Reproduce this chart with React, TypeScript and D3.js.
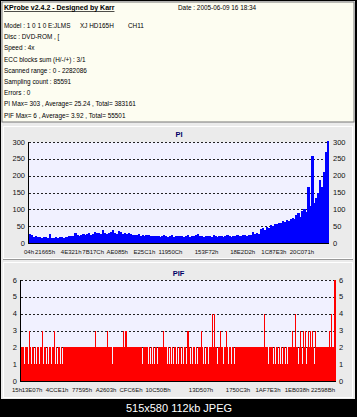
import React from 'react';
import * as d3 from 'd3';

const W = 357;
const H = 417;

const titleText = 'KProbe v2.4.2 - Designed by Karr';
const dateText = 'Date : 2005-06-09 16 18:34';
const infoLines = [
  'Model : 1 0 1 0 E:JLMS',
  'Disc : DVD-ROM , [',
  'Speed : 4x',
  'ECC blocks sum (H/-/+) : 3/1',
  'Scanned range : 0 - 2282086',
  'Sampling count : 85591',
  'Errors : 0',
  'PI Max= 303 , Average= 25.24 , Total= 383161',
  'PIF Max= 6 , Average= 3.92 , Total= 55501',
];
const modelDrive = 'XJ HD165H';
const modelFw = 'CH11';
const footerText = '515x580 112kb JPEG';

const scanEnd = 2282086;

// PI series (sampled left to right across the scanned range)
const piValues = [
  27, 24, 18, 20, 17, 19, 16, 18,
  17, 16, 26, 16, 15, 17, 16, 18, 17, 16, 18, 17,
  20, 22, 21, 30, 23, 22, 24, 26, 25, 27, 31, 24, 28, 33, 29,
  30, 28, 40, 31, 27, 29, 33, 38, 30, 28, 35, 32, 27, 30, 26, 29, 28,
  25, 23, 24, 27, 22, 24, 21, 23, 25, 22, 20, 21,
  22, 20, 19, 21, 24, 20, 18, 21, 23, 19, 20, 22,
  20, 21, 18, 22, 24, 19, 21, 20, 23, 26, 21, 20, 19, 22, 21,
  20, 19, 24, 21, 18, 20, 22, 19, 21, 23, 20, 19, 22, 20, 24, 21, 22, 23, 25, 22, 24, 23,
  34, 28, 30, 26,
  42, 45, 40, 48, 46, 52, 50, 55,
  57, 60, 58, 65, 62, 68, 66, 72,
  75, 70, 82, 88, 78, 95, 100, 92,
  165, 110, 258, 120, 135,
  150, 186, 165, 210, 270, 303,
];
const piYTicks = [0, 50, 100, 150, 200, 250, 300];
const piXTickLabels = ['04h', '21665h', '4E321h', '7B17Ch', 'AE085h', 'E25C1h', '11950Ch', '153F72h', '18E2D2h', '1C87E3h', '20C071h'];
const piXTickLBA = [0, 122000, 320600, 488500, 671600, 877700, 1076200, 1351000, 1625700, 1862300, 2076000];

// PIF series
const pifValues = [
  2, 2, 2, 1, 2, 2, 2, 1, 3, 2,
  1, 2, 2, 1, 2, 1, 2, 2, 1, 2,
  2, 3, 1, 2, 2, 1, 2, 1, 2, 2,
  1, 2, 2, 3, 1, 2, 1, 2, 2, 1,
  2, 1, 2, 2, 2, 2, 2, 2, 2, 2,
  2, 2, 2, 2, 2, 2, 2, 2, 2, 2,
  2, 2, 2, 2, 2, 2, 2, 2, 2, 2,
  2, 2, 2, 2, 3, 2, 2, 2, 2, 2,
  2, 2, 2, 2, 2, 2, 3, 2, 2, 2,
  2, 1, 2, 2, 2, 2, 2, 2, 2, 2,
  2, 2, 3, 2, 3, 3, 2, 2, 2, 2,
  2, 2, 2, 2, 2, 2, 2, 2, 2, 2,
  2, 1, 2, 2, 2, 2, 2, 1, 2, 1,
  2, 1, 2, 1, 2, 2, 1, 2, 2, 2,
  2, 2, 3, 2, 2, 2, 1, 2, 1, 2,
  1, 2, 1, 2, 2, 1, 2, 1, 2, 2,
  1, 2, 1, 2, 2, 1, 3, 3, 2, 1,
  2, 1, 2, 2, 1, 2, 1, 2, 2, 2,
  3, 2, 1, 2, 1, 2, 2, 1, 2, 2,
  2, 4, 2, 4, 2, 2, 1, 2, 2, 3,
  2, 2, 1, 2, 2, 3, 2, 1, 2, 2,
  1, 2, 2, 1, 2, 2, 2, 2, 2, 2,
  2, 2, 2, 2, 2, 2, 2, 2, 2, 2,
  2, 2, 2, 2, 2, 2, 2, 2, 2, 2,
  2, 2, 2, 4, 2, 2, 2, 1, 2, 2,
  2, 2, 1, 2, 1, 2, 2, 1, 2, 1,
  2, 1, 2, 2, 1, 2, 1, 2, 2, 2,
  2, 3, 2, 2, 4, 2, 2, 1, 2, 3,
  2, 1, 3, 2, 3, 1, 2, 3, 2, 3,
  2, 3, 2, 1, 3, 2, 2, 2, 2, 2,
  2, 2, 2, 2, 2, 2, 2, 2, 3, 2,
  4, 2, 2, 6, 6,
];
const pifYTicks = [0, 1, 2, 3, 4, 5, 6];
const pifXTickLabels = ['15h', '13E07h', '4CCE1h', '77595h', 'A2603h', 'CFC6Eh', '10C50Bh', '13D507h', '1750C3h', '1AF7E3h', '1EB038h', '22598Bh'];
const pifXTickLBA = [0, 79700, 260800, 441900, 615800, 796900, 992500, 1304000, 1572100, 1789400, 1999500, 2188000];

const FONT = 'Liberation Sans, Arial, sans-serif';
const PANEL_BG = '#ebebeb';
const PLOT_BG = '#f1f1ff';

type ChartProps = {
  title: string;
  titleY: number;
  values: number[];
  yMax: number;
  yTicks: number[];
  xLabels: string[];
  xLBA: number[];
  left: number;
  right: number;
  top: number;
  bottom: number;
  color: string;
  leftLabelX: number;
  rightLabelX: number;
  xLabelY: number;
  firstLabelEnd?: boolean;
};

function Chart(p: ChartProps) {
  const xi = d3.scaleLinear().domain([0, p.values.length]).range([p.left, p.right]);
  const xl = d3.scaleLinear().domain([0, scanEnd]).range([p.left, p.right]);
  const y = d3.scaleLinear().domain([0, p.yMax]).range([p.bottom, p.top]);
  return (
    <g>
      <text x={(p.left + p.right) / 2} y={p.titleY} textAnchor="middle" fontFamily={FONT} fontWeight="bold" fontSize={7.5} fill="#000066">{p.title}</text>
      <rect x={p.left} y={p.top} width={p.right - p.left} height={p.bottom - p.top} fill={PLOT_BG} />
      {p.yTicks.filter((t) => t > 0).map((t) => (
        <line key={'g' + t} x1={p.left} x2={p.right} y1={Math.round(y(t)) + 0.5} y2={Math.round(y(t)) + 0.5} stroke="#222" strokeWidth={1} strokeDasharray="2,2" />
      ))}
      {p.values.map((v, i) => (
        <rect key={i} x={xi(i)} y={y(v)} width={xi(i + 1) - xi(i) + 0.3} height={y(0) - y(v)} fill={p.color} shapeRendering="crispEdges" />
      ))}
      <line x1={p.left - 0.5} x2={p.left - 0.5} y1={p.top} y2={p.bottom + 1} stroke="#000" strokeWidth={1} />
      <line x1={p.left - 0.5} x2={p.right} y1={p.bottom + 0.5} y2={p.bottom + 0.5} stroke="#000" strokeWidth={1} />
      {p.yTicks.map((t) => (
        <g key={'l' + t}>
          <text x={p.leftLabelX} y={y(t) + 2.5} textAnchor="end" fontFamily={FONT} fontSize={7.5} fill="#111">{t}</text>
          <text x={p.rightLabelX} y={y(t) + 2.5} textAnchor="start" fontFamily={FONT} fontSize={7.5} fill="#111">{t}</text>
        </g>
      ))}
      {p.xLabels.map((lab, i) => {
        const endAnchored = p.firstLabelEnd && i === 0;
        return (
          <text key={'x' + i} x={endAnchored ? xl(p.xLBA[i]) + 1 : xl(p.xLBA[i])} y={p.xLabelY}
            textAnchor={endAnchored ? 'end' : 'middle'} fontFamily={FONT} fontSize={6} fill="#111">{lab}</text>
        );
      })}
    </g>
  );
}

export default function App() {
  const lineY = (i: number) => 28 + i * 11.2;
  return (
    <svg width={W} height={H} viewBox={`0 0 ${W} ${H}`} style={{ position: 'absolute', left: 0, top: 0, display: 'block' }}>
      <rect x={0} y={0} width={W} height={H} fill="#000" />
      <rect x={1} y={1} width={354} height={398} fill={PANEL_BG} />
      {/* info box */}
      <rect x={2} y={2} width={352} height={120} fill="#fdfdf1" stroke="#777" strokeWidth={1} />
      <text x={4} y={10} fontFamily={FONT} fontWeight="bold" fontSize={7} fill="#000" textDecoration="underline">{titleText}</text>
      <text x={178} y={10} fontFamily={FONT} fontSize={6.4} fill="#000">{dateText}</text>
      {infoLines.map((s, i) => (
        <text key={i} x={4} y={lineY(i)} fontFamily={FONT} fontSize={6.4} fill="#000">{s}</text>
      ))}
      <text x={80} y={lineY(0)} fontFamily={FONT} fontSize={6.4} fill="#000">{modelDrive}</text>
      <text x={128} y={lineY(0)} fontFamily={FONT} fontSize={6.4} fill="#000">{modelFw}</text>
      {/* PI panel */}
      <rect x={3.5} y={126.5} width={349} height={132} fill={PANEL_BG} stroke="#fff" strokeWidth={1} />
      <line x1={3} x2={353} y1={259.5} y2={259.5} stroke="#999" />
      <Chart title="PI" titleY={137} values={piValues} yMax={300} yTicks={piYTicks} xLabels={piXTickLabels} xLBA={piXTickLBA}
        left={29} right={329} top={142} bottom={243} color="#0000ff" leftLabelX={25} rightLabelX={333} xLabelY={254} />
      {/* PIF panel */}
      <rect x={3.5} y={262.5} width={349} height={135} fill={PANEL_BG} stroke="#fff" strokeWidth={1} />
      <Chart title="PIF" titleY={276} values={pifValues} yMax={6} yTicks={pifYTicks} xLabels={pifXTickLabels} xLBA={pifXTickLBA}
        left={21} right={336} top={280} bottom={381} color="#ff0000" leftLabelX={17} rightLabelX={339} xLabelY={392} firstLabelEnd />
      <text x={179} y={412} textAnchor="middle" fontFamily={FONT} fontSize={11} fill="#fff">{footerText}</text>
    </svg>
  );
}
